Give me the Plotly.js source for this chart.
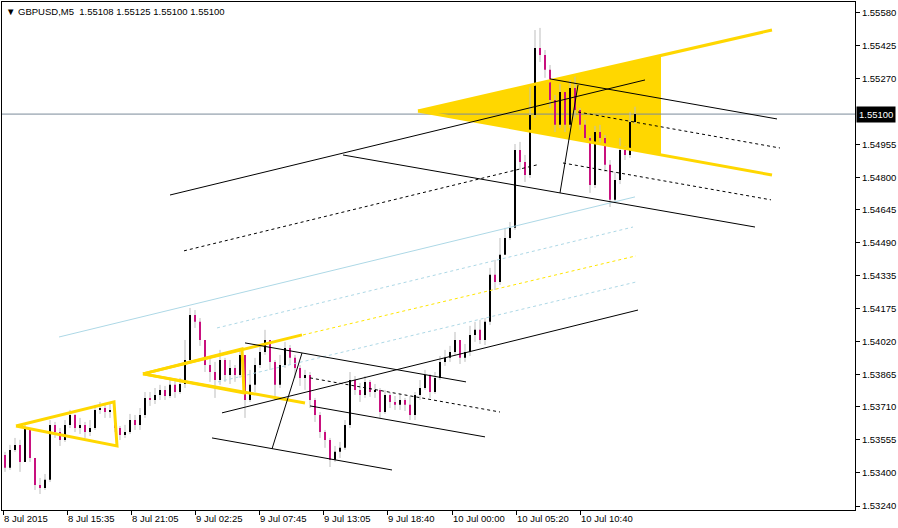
<!DOCTYPE html>
<html>
<head>
<meta charset="utf-8">
<script src="https://cdn.plot.ly/plotly-3.0.1.min.js"></script>
<style>html,body{margin:0;padding:0;background:#fff;}#chart{width:898px;height:528px;}</style>
</head>
<body>
<div id="chart"></div>
<script>
// ---- price data (5 M5 bars per candle, bar index units on x) ----
const firstOpen = 1.53482;
const closes = [1.53421,1.53506,1.53530,1.53449,1.53610,1.53468,1.53340,1.53326,1.53364,1.53625,
1.53591,1.53553,1.53625,1.53672,1.53610,1.53625,1.53591,1.53610,1.53696,1.53705,
1.53686,1.53696,1.53610,1.53577,1.53591,1.53648,1.53625,1.53672,1.53753,1.53743,
1.53767,1.53791,1.53762,1.53815,1.53781,1.53819,1.53933,1.54147,1.54114,1.54028,
1.53909,1.53876,1.53838,1.53933,1.53862,1.53895,1.53862,1.53957,1.53743,1.53815,
1.53909,1.53971,1.54028,1.53924,1.53815,1.53909,1.53990,1.53943,1.53895,1.53848,
1.53862,1.53743,1.53672,1.53591,1.53553,1.53459,1.53497,1.53516,1.53625,1.53838,
1.53791,1.53767,1.53829,1.53781,1.53791,1.53686,1.53767,1.53734,1.53720,1.53743,
1.53720,1.53672,1.53767,1.53800,1.53862,1.53781,1.53848,1.53924,1.53943,1.53971,
1.54028,1.53943,1.53971,1.54052,1.54076,1.54028,1.54114,1.54337,1.54303,1.54432,
1.54512,1.54560,1.54930,1.54873,1.54811,1.55096,1.55414,1.55381,1.55310,1.55167,
1.55049,1.55205,1.55049,1.55224,1.55120,1.55049,1.54987,1.54764,1.55015,1.54987,
1.54859,1.54693,1.54787,1.54930,1.54906,1.55063,1.55100];
const highs = [1.53497,1.53530,1.53563,1.53554,1.53634,1.53610,1.53468,1.53373,1.53392,1.53648,
1.53639,1.53610,1.53648,1.53696,1.53677,1.53658,1.53639,1.53648,1.53720,1.53734,
1.53720,1.53724,1.53705,1.53620,1.53625,1.53677,1.53672,1.53705,1.53781,1.53781,
1.53800,1.53815,1.53810,1.53848,1.53838,1.53848,1.54028,1.54180,1.54170,1.54132,
1.54028,1.53943,1.53924,1.53981,1.53943,1.53933,1.53909,1.53990,1.53957,1.53886,
1.53943,1.54000,1.54076,1.54028,1.53933,1.53957,1.54019,1.54004,1.53957,1.53909,
1.53886,1.53876,1.53753,1.53686,1.53601,1.53563,1.53525,1.53544,1.53648,1.53876,
1.53857,1.53824,1.53857,1.53838,1.53819,1.53800,1.53791,1.53781,1.53762,1.53772,
1.53753,1.53762,1.53781,1.53838,1.53886,1.53867,1.53876,1.53952,1.53981,1.54000,
1.54066,1.54028,1.54009,1.54095,1.54114,1.54123,1.54132,1.54370,1.54408,1.54512,
1.54560,1.54588,1.54958,1.54968,1.54906,1.55238,1.55499,1.55509,1.55404,1.55333,
1.55191,1.55243,1.55205,1.55262,1.55281,1.55129,1.55072,1.54996,1.55044,1.55049,
1.55001,1.54882,1.54825,1.54987,1.54949,1.55110,1.55135];
const lows = [1.53402,1.53411,1.53497,1.53402,1.53449,1.53449,1.53316,1.53297,1.53316,1.53354,
1.53563,1.53525,1.53544,1.53610,1.53591,1.53582,1.53563,1.53572,1.53601,1.53677,
1.53658,1.53658,1.53591,1.53553,1.53563,1.53582,1.53601,1.53601,1.53658,1.53715,
1.53724,1.53743,1.53743,1.53753,1.53753,1.53772,1.53800,1.53924,1.54085,1.54000,
1.53876,1.53829,1.53753,1.53815,1.53829,1.53819,1.53829,1.53848,1.53658,1.53734,
1.53781,1.53895,1.53957,1.53886,1.53743,1.53800,1.53895,1.53914,1.53848,1.53810,
1.53791,1.53705,1.53639,1.53563,1.53516,1.53425,1.53449,1.53468,1.53506,1.53610,
1.53767,1.53734,1.53753,1.53758,1.53753,1.53658,1.53677,1.53705,1.53696,1.53696,
1.53691,1.53648,1.53648,1.53743,1.53791,1.53753,1.53772,1.53838,1.53905,1.53924,
1.53952,1.53914,1.53924,1.53952,1.54019,1.54009,1.54004,1.54099,1.54265,1.54289,
1.54455,1.54503,1.54550,1.54835,1.54778,1.54797,1.55082,1.55347,1.55272,1.55129,
1.55015,1.55034,1.55015,1.55034,1.55082,1.55025,1.54968,1.54726,1.54749,1.54954,
1.54825,1.54659,1.54678,1.54768,1.54882,1.54892,1.55053];
const barsPerCandle = 5;

// ---- axis labels ----
const priceTicks = [1.55580,1.55425,1.55270,1.54955,1.54800,1.54645,1.54490,1.54335,1.54175,1.54020,1.53865,1.53710,1.53555,1.53400,1.53240];
const timeTickPos = [3,67,131,195,259,323,387,452,516,580];
const timeTickText = ['8 Jul 2015','8 Jul 15:35','8 Jul 21:05','9 Jul 02:25','9 Jul 07:45','9 Jul 13:05','9 Jul 18:40','10 Jul 00:00','10 Jul 05:20','10 Jul 10:40'];
const lastPrice = 1.55100;
const headerText = '\u25BC GBPUSD,M5\u00a0\u00a01.55108 1.55125 1.55100 1.55100';

// ---- drawn objects: [bar1, price1, bar2, price2] ----
const blackSolid = [[170,1.54716,645,1.55262],[343,1.54906,755,1.54564],[550,1.55267,777,1.55077],[560,1.54726,578,1.55238],
  [222,1.53682,638,1.54170],[245,1.54014,466,1.53829],[310,1.53715,485,1.53568],[212,1.53563,392,1.53411],[272,1.53511,302,1.53966]];
const blackDashed = [[578,1.55110,780,1.54939],[563,1.54868,771,1.54693],[184,1.54451,537,1.54859],[310,1.53848,500,1.53686]];
const blueSolid = [[59,1.54042,635,1.54707]];
const blueDashed = [[217,1.54085,633,1.54564],[218,1.53829,636,1.54303]];
const yellowDashed = [[303,1.54052,636,1.54427]];
const goldLines = [[143,1.53867,302,1.54052],[143,1.53867,305,1.53729],[418,1.55115,772,1.55499],[418,1.55115,772,1.54811]];
const goldTriangles = [[[16,1.53620],[114,1.53734],[117,1.53525]],[[143,1.53867],[242,1.53985],[244,1.53777]]];
const filledTriangle = [[418,1.55115],[661,1.55381],[661,1.54906]];

// ---- build traces ----
const xs = closes.map((_, i) => (i + 1) * barsPerCandle);
const opens = [firstOpen].concat(closes.slice(0, -1));

function segTrace(list, color, width, dash) {
  const x = [], y = [];
  list.forEach(s => { x.push(s[0], s[2], null); y.push(s[1], s[3], null); });
  return {type:'scatter', mode:'lines', x, y, line:{color, width, dash: dash || 'solid'}, hoverinfo:'skip', showlegend:false};
}
function polyTrace(list, color, width) {
  const x = [], y = [];
  list.forEach(tri => { tri.concat([tri[0]]).forEach(p => { x.push(p[0]); y.push(p[1]); }); x.push(null); y.push(null); });
  return {type:'scatter', mode:'lines', x, y, line:{color, width}, hoverinfo:'skip', showlegend:false};
}

const wx = [], wy = [], ux = [], uy = [], dx = [], dy = [];
xs.forEach((x, i) => {
  wx.push(x, x, null); wy.push(lows[i], highs[i], null);
  if (closes[i] >= opens[i]) { ux.push(x, x, null); uy.push(opens[i], closes[i], null); }
  else { dx.push(x, x, null); dy.push(opens[i], closes[i], null); }
});

const traces = [
  {type:'scatter', mode:'lines', x: filledTriangle.map(p=>p[0]).concat([filledTriangle[0][0]]),
   y: filledTriangle.map(p=>p[1]).concat([filledTriangle[0][1]]), fill:'toself', fillcolor:'#FFD700',
   line:{width:0, color:'#FFD700'}, hoverinfo:'skip', showlegend:false},
  {type:'scatter', mode:'lines', x:[2,855], y:[lastPrice,lastPrice], line:{color:'#7A8A9A', width:1}, hoverinfo:'skip', showlegend:false},
  {type:'scatter', mode:'lines', x: wx, y: wy, line:{color:'#BDBDBD', width:1}, hoverinfo:'skip', showlegend:false},
  {type:'scatter', mode:'lines', x: ux, y: uy, line:{color:'#000000', width:2}, hoverinfo:'skip', showlegend:false},
  {type:'scatter', mode:'lines', x: dx, y: dy, line:{color:'#C8107E', width:2}, hoverinfo:'skip', showlegend:false},
  segTrace(blueSolid, '#ADD8E6', 1),
  segTrace(blueDashed, '#ADD8E6', 1, '3px,3px'),
  segTrace(yellowDashed, '#FFE600', 1, '3px,3px'),
  polyTrace(goldTriangles, '#FFD700', 3),
  segTrace(goldLines, '#FFD700', 3),
  segTrace(blackSolid, '#000000', 1),
  segTrace(blackDashed, '#000000', 1, '3px,3px')
];

const fontFam = 'Liberation Sans, Arial, sans-serif';
const layout = {
  width: 898, height: 528,
  margin: {l:2, r:43, t:2, b:18, pad:0},
  paper_bgcolor:'#ffffff', plot_bgcolor:'#ffffff',
  showlegend:false,
  font:{family:fontFam, size:9.5, color:'#000'},
  xaxis: {range:[2,855], showgrid:false, zeroline:false, showline:true, mirror:true, linecolor:'#000', linewidth:1,
    tickvals: timeTickPos, ticktext: timeTickText, ticks:'outside', ticklen:4, tickcolor:'#000',
    ticklabelposition:'outside right', tickfont:{family:fontFam, size:9.5, color:'#000'}, fixedrange:true},
  yaxis: {range:[1.53221,1.55632], side:'right', showgrid:false, zeroline:false, showline:true, mirror:true,
    linecolor:'#000', linewidth:1, tickvals: priceTicks, ticktext: priceTicks.map(v=>v.toFixed(5)),
    ticks:'outside', ticklen:4, tickcolor:'#000', tickfont:{family:fontFam, size:9.5, color:'#000'}, fixedrange:true},
  annotations: [
    {xref:'paper', yref:'paper', x:0, y:1, xanchor:'left', yanchor:'top', xshift:2, yshift:-2, showarrow:false,
     text: headerText, font:{family:fontFam, size:9.5, color:'#000'}, bgcolor:'#ffffff', borderpad:1},
    {xref:'paper', yref:'y', x:1, y:lastPrice, xanchor:'left', yanchor:'middle', xshift:1, showarrow:false,
     text: lastPrice.toFixed(5), font:{family:fontFam, size:9.5, color:'#ffffff'}, bgcolor:'#000000', borderpad:2}
  ]
};
Plotly.newPlot('chart', traces, layout, {staticPlot:true, displayModeBar:false});
</script>
</body>
</html>
